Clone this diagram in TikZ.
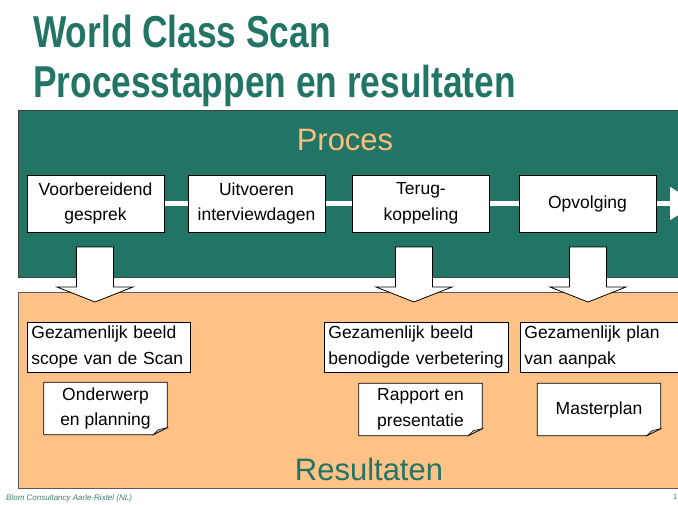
\documentclass[tikz,border=0pt]{standalone}
\usepackage{fontspec}
\usepackage{graphicx}
\setmainfont{Liberation Sans}
\usetikzlibrary{arrows.meta}
\pgfdeclarelayer{back}
\pgfdeclarelayer{mid}
\pgfsetlayers{back,mid,main}
\definecolor{wcgreen}{RGB}{34,116,101}
\definecolor{wcorange}{RGB}{255,194,134}
\definecolor{procorange}{RGB}{250,190,124}
\definecolor{footgreen}{RGB}{60,125,112}
\begin{document}
\begin{tikzpicture}[x=1pt,y=-1pt,
  txt/.style={font=\fontsize{17.5}{25.5}\selectfont},
  stepbox/.style={txt,draw=black,fill=white,line width=0.8pt,minimum width=137pt,minimum height=57pt,inner sep=0pt,align=center},
  resbox/.style={txt,draw=black,fill=white,line width=0.8pt,minimum height=50pt,inner xsep=4pt,inner ysep=0pt,align=left,anchor=west},
  docbox/.style={txt,minimum width=123pt,minimum height=52pt,inner sep=0pt,align=center},
  docshape/.style={fill=white,draw=black,line width=0.8pt},
  foldshape/.style={fill=gray!55,draw=black,line width=0.5pt},
  link/.style={draw=white,line width=5pt},
  blockarrow/.style={fill=white,draw=black,line width=0.8pt},
  titletext/.style={text=wcgreen,font=\fontsize{44.7}{50}\selectfont\bfseries,inner sep=0pt,anchor=base west}
]
\path[use as bounding box] (0,0) rectangle (678,504);
\clip (0,0) rectangle (678,504);

% title
\node[titletext] (t1) at (33,47) {\scalebox{0.79}[1]{World Class Scan}};
\node[titletext] (t2) at (33,97) {\scalebox{0.79}[1]{Processtappen en resultaten}};

% panels
\begin{pgfonlayer}{back}
\filldraw[fill=wcgreen,draw=black!75,line width=0.8pt] (18,110) rectangle (700,277);
\filldraw[fill=wcorange,draw=gray!70!black,line width=1pt] (18,292) rectangle (700,488);
\end{pgfonlayer}

\node[text=procorange,font=\fontsize{31}{36}\selectfont,inner sep=0pt,anchor=base] (proc) at (345,150) {Proces};
\node[text=wcgreen,font=\fontsize{31}{36}\selectfont,inner sep=0pt,anchor=base] (res) at (369,480) {Resultaten};

% process steps
\node[stepbox] (p1) at (95.5,203.5) {Voorbereidend\\gesprek};
\node[stepbox] (p2) at (256.5,203.5) {Uitvoeren\\interviewdagen};
\node[stepbox] (p3) at (421,203.5) {Terug-\\koppeling};
\node[stepbox] (p4) at (587.5,203.5) {Opvolging};
\coordinate (pend) at (697,203.5);
\begin{pgfonlayer}{mid}
\draw[link] (p1) -- (p2);
\draw[link] (p2) -- (p3);
\draw[link] (p3) -- (p4);
\draw[link,-{Triangle[length=27pt,width=32pt]}] (p4.east) -- (pend);
\end{pgfonlayer}

% block arrows
\foreach \cx in {95,414,588}{
  \filldraw[blockarrow] ({\cx-18.5},247) -- ({\cx+18.5},247) -- ({\cx+18.5},287) -- ({\cx+38},287)
    -- (\cx,302) -- ({\cx-38},287) -- ({\cx-18.5},287) -- cycle;
}

% result boxes
\node[resbox,text width=155pt] (r1) at (27,347) {Gezamenlijk beeld\\scope van de Scan};
\node[resbox,text width=176pt] (r2) at (324,347) {Gezamenlijk beeld\\benodigde verbetering};
\node[resbox,text width=167pt] (r3) at (520,347) {Gezamenlijk plan\\van aanpak};

% documents
\node[docbox] (d1) at (105.5,408.5) {Onderwerp\\en planning};
\node[docbox] (d2) at (420.5,409.5) {Rapport en\\presentatie};
\node[docbox] (d3) at (599,409.5) {Masterplan};
\begin{pgfonlayer}{mid}
\foreach \d in {d1,d2,d3}{
  \filldraw[docshape] (\d.north west) -- (\d.north east) -- ([yshift=7pt]\d.south east)
    -- ([xshift=-14pt]\d.south east) -- (\d.south west) -- cycle;
  \filldraw[foldshape] ([yshift=7pt]\d.south east) -- ([xshift=-14pt]\d.south east)
    -- ([xshift=-9pt,yshift=5pt]\d.south east) -- cycle;
}
\end{pgfonlayer}

% footer
\node[text=footgreen,font=\fontsize{8}{9}\selectfont\itshape,inner sep=0pt,anchor=base west] (foot) at (6,500) {Blom Consultancy Aarle-Rixtel (NL)};
\node[text=footgreen,font=\fontsize{7.5}{9}\selectfont,inner sep=0pt,anchor=base west] (pg) at (673,499) {1};
\end{tikzpicture}
\end{document}
